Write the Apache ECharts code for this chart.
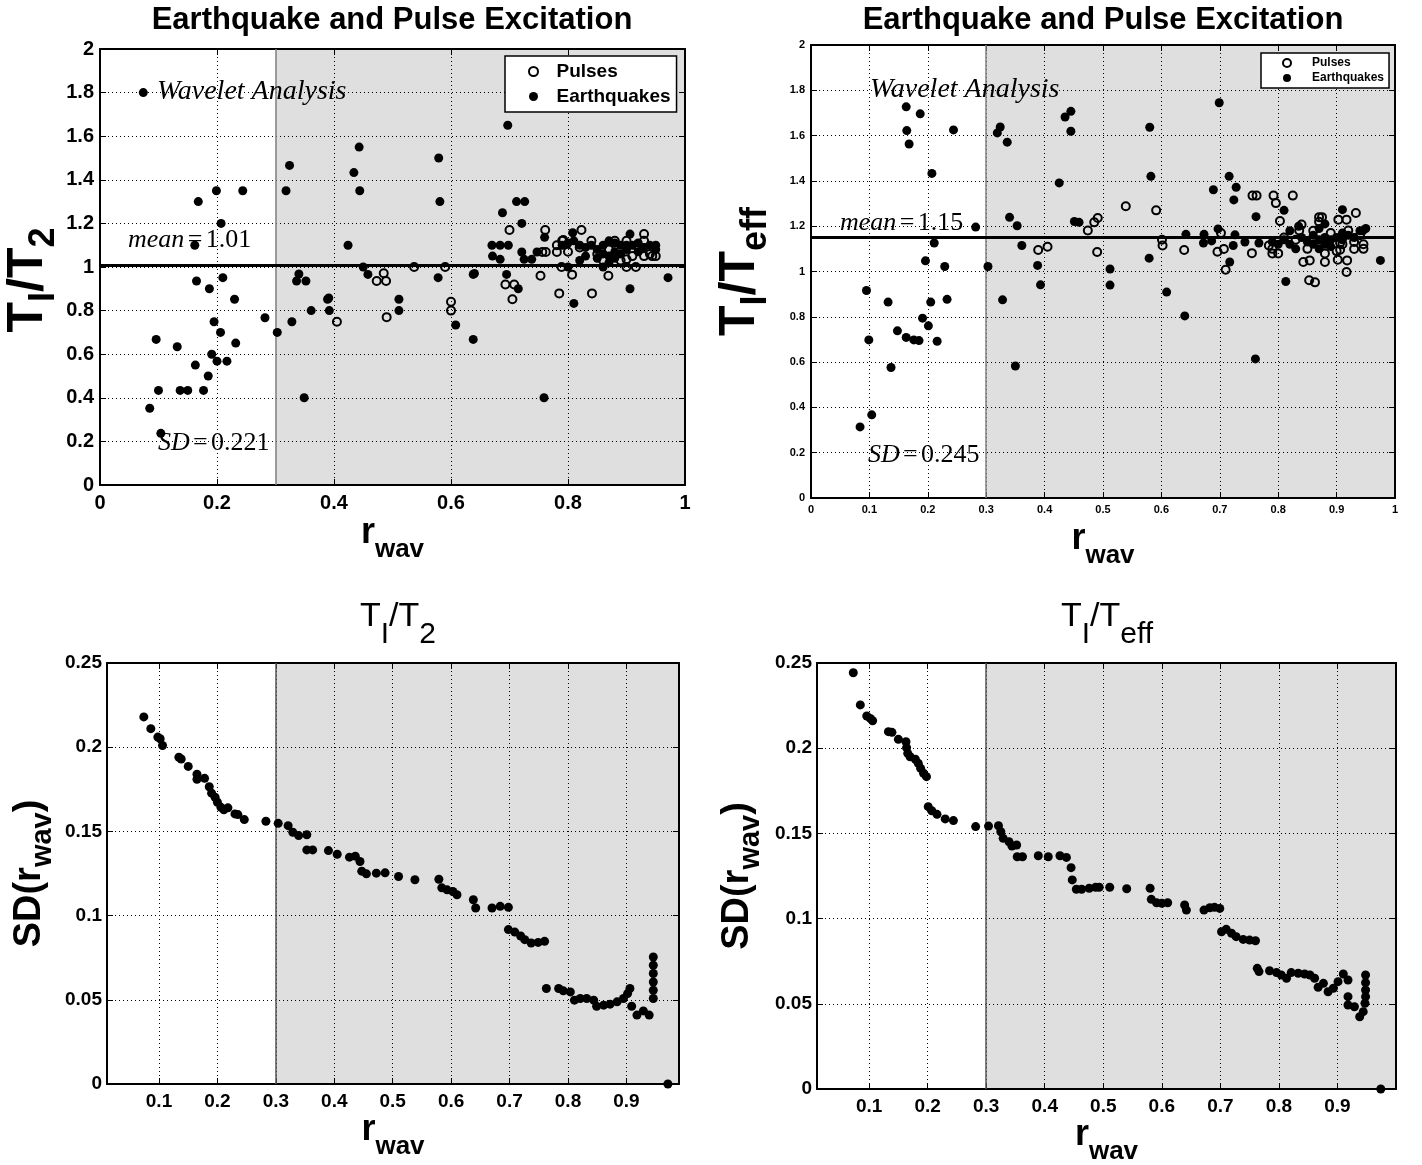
<!DOCTYPE html>
<html>
<head>
<meta charset="utf-8">
<script src="https://cdn.jsdelivr.net/npm/echarts@6/dist/echarts.min.js"></script>
<style>
  html, body { margin: 0; padding: 0; background: #fff; }
  #chart { width: 1422px; height: 1165px; }
</style>
</head>
<body>
<div id="chart"></div>
<script>
// ---- data ----
var tlQuakes = [
  [0.074,1.80],[0.443,1.55],[0.324,1.466],[0.434,1.433],[0.168,1.30],[0.199,1.35],[0.244,1.35],
  [0.318,1.35],[0.444,1.35],[0.207,1.20],[0.162,1.10],[0.424,1.10],[0.45,1.00],[0.458,0.966],
  [0.165,0.936],[0.210,0.951],[0.187,0.90],[0.340,0.968],[0.336,0.936],[0.352,0.936],[0.230,0.852],
  [0.389,0.852],[0.391,0.858],[0.361,0.80],[0.392,0.80],[0.282,0.767],[0.328,0.749],[0.195,0.749],
  [0.206,0.70],[0.303,0.70],[0.096,0.668],[0.132,0.634],[0.232,0.651],[0.191,0.60],[0.20,0.568],
  [0.217,0.568],[0.163,0.55],[0.185,0.50],[0.10,0.434],[0.137,0.434],[0.150,0.434],[0.177,0.434],
  [0.349,0.40],[0.085,0.352],[0.104,0.237],
  [0.697,1.65],[0.579,1.50],[0.581,1.30],[0.712,1.30],[0.726,1.30],[0.688,1.249],[0.721,1.20],
  [0.670,1.10],[0.684,1.10],[0.698,1.10],[0.671,1.05],[0.684,1.035],[0.721,1.069],[0.725,1.035],
  [0.738,1.035],[0.747,1.069],[0.760,1.136],[0.578,0.951],[0.695,0.966],[0.638,0.966],[0.640,0.97],
  [0.715,0.90],[0.511,0.852],[0.511,0.80],[0.608,0.734],[0.638,0.668],[0.759,0.40],[0.808,1.157],
  [0.81,0.833],[0.906,0.90],[0.971,0.951],[0.906,1.151],
  [0.79,1.10],[0.80,1.11],[0.81,1.12],[0.82,1.10],[0.83,1.09],[0.83,1.05],[0.84,1.10],[0.85,1.08],
  [0.85,1.04],[0.86,1.10],[0.86,1.06],[0.87,1.12],[0.87,1.05],[0.87,1.02],[0.88,1.11],[0.88,1.07],
  [0.88,1.04],[0.89,1.10],[0.89,1.06],[0.90,1.10],[0.90,1.08],[0.91,1.10],[0.92,1.07],[0.92,1.11],
  [0.93,1.09],[0.94,1.10],[0.95,1.10],[0.95,1.08],[0.86,1.00],[0.80,1.00],[0.82,1.03]
];
var tlPulses = [
  [0.405,0.749],[0.473,0.936],[0.489,0.936],[0.485,0.971],[0.49,0.77],[0.537,1.0],[0.59,1.0],
  [0.60,0.841],[0.60,0.80],[0.70,1.17],[0.693,0.92],[0.708,0.92],[0.705,0.852],[0.753,0.96],
  [0.761,1.17],[0.756,1.069],[0.762,1.069],[0.781,1.10],[0.781,1.069],[0.785,0.879],[0.792,1.124],
  [0.823,1.17],[0.807,0.965],[0.789,1.0],[0.841,0.879],[0.869,0.96],[0.90,1.035],[0.90,1.0],
  [0.916,1.0],[0.930,1.151],[0.917,1.10],[0.93,1.05],[0.944,1.05],
  [0.79,1.12],[0.80,1.07],[0.82,1.09],[0.84,1.12],[0.85,1.06],[0.86,1.03],[0.87,1.08],[0.88,1.12],
  [0.89,1.03],[0.91,1.05],[0.92,1.09],[0.93,1.12],[0.94,1.06],[0.95,1.05],[0.90,1.12]
];
var trQuakes = [
  [0.163,1.727],[0.187,1.696],[0.164,1.622],[0.168,1.563],[0.244,1.625],[0.207,1.433],[0.324,1.638],
  [0.319,1.612],[0.336,1.571],[0.445,1.707],[0.435,1.682],[0.445,1.619],[0.425,1.391],[0.340,1.239],
  [0.353,1.202],[0.282,1.196],[0.451,1.221],[0.459,1.217],[0.361,1.115],[0.211,1.126],[0.196,1.047],
  [0.229,1.022],[0.303,1.022],[0.388,1.027],[0.393,0.941],[0.095,0.916],[0.132,0.865],[0.205,0.865],
  [0.233,0.877],[0.328,0.875],[0.191,0.794],[0.201,0.760],[0.148,0.738],[0.163,0.709],[0.176,0.698],
  [0.185,0.695],[0.099,0.698],[0.216,0.692],[0.137,0.576],[0.35,0.583],[0.104,0.367],[0.084,0.314],
  [0.699,1.745],[0.580,1.637],[0.582,1.42],[0.716,1.42],[0.728,1.372],[0.689,1.361],[0.724,1.316],
  [0.762,1.242],[0.81,1.27],[0.91,1.273],[0.512,1.011],[0.512,0.94],[0.579,1.059],[0.609,0.909],
  [0.64,0.804],[0.761,0.614],[0.813,0.956],[0.717,1.042],[0.975,1.049],[0.642,1.164],[0.673,1.164],
  [0.686,1.135],[0.697,1.188],[0.672,1.126],[0.726,1.162],[0.723,1.115],[0.743,1.13],[0.767,1.126],
  [0.79,1.13],[0.80,1.12],[0.81,1.14],[0.82,1.12],[0.83,1.10],[0.84,1.15],[0.85,1.13],[0.86,1.16],
  [0.86,1.12],[0.87,1.19],[0.87,1.14],[0.87,1.10],[0.88,1.21],[0.88,1.15],[0.88,1.12],[0.89,1.14],
  [0.89,1.11],[0.90,1.15],[0.91,1.17],[0.91,1.14],[0.92,1.16],[0.93,1.15],[0.94,1.18],[0.945,1.18],
  [0.95,1.19],[0.82,1.18],[0.835,1.20]
];
var trPulses = [
  [0.389,1.095],[0.405,1.109],[0.474,1.181],[0.485,1.217],[0.491,1.236],[0.49,1.086],[0.539,1.288],
  [0.591,1.27],[0.601,1.14],[0.602,1.115],[0.639,1.095],[0.702,1.17],[0.696,1.087],[0.707,1.099],
  [0.71,1.008],[0.756,1.335],[0.763,1.335],[0.755,1.081],[0.792,1.335],[0.796,1.302],[0.825,1.335],
  [0.803,1.223],[0.784,1.115],[0.79,1.08],[0.84,1.207],[0.836,1.181],[0.843,1.042],[0.854,1.049],
  [0.853,0.961],[0.863,0.952],[0.88,1.042],[0.87,1.24],[0.875,1.24],[0.903,1.229],[0.917,1.229],
  [0.933,1.258],[0.92,1.181],[0.906,1.126],[0.906,1.096],[0.902,1.052],[0.918,1.049],[0.917,0.998],
  [0.93,1.099],[0.946,1.12],[0.946,1.10],
  [0.79,1.10],[0.80,1.08],[0.81,1.15],[0.83,1.14],[0.85,1.10],[0.86,1.18],[0.87,1.22],[0.88,1.08],
  [0.89,1.17],[0.90,1.09],[0.91,1.12],[0.93,1.13],[0.94,1.16]
];
var blSD = [
  [0.074,0.218],[0.086,0.211],[0.098,0.206],[0.102,0.205],[0.106,0.201],[0.134,0.194],[0.138,0.193],
  [0.150,0.1886],[0.165,0.184],[0.165,0.181],[0.178,0.1815],[0.186,0.1765],[0.19,0.1727],[0.196,0.1703],
  [0.2,0.1673],[0.206,0.1643],[0.211,0.1628],[0.218,0.164],[0.23,0.1604],[0.235,0.160],[0.246,0.157],
  [0.283,0.156],[0.304,0.1548],[0.321,0.1534],[0.329,0.1495],[0.339,0.1475],[0.353,0.148],[0.353,0.139],
  [0.363,0.139],[0.39,0.1386],[0.405,0.1364],[0.426,0.1347],[0.436,0.1353],[0.444,0.1321],[0.447,0.1264],
  [0.455,0.1248],[0.472,0.1252],[0.487,0.1254],[0.51,0.1232],[0.538,0.1213],[0.579,0.1216],[0.584,0.1165],
  [0.593,0.1153],[0.603,0.1143],[0.61,0.1124],[0.638,0.1094],[0.642,0.1045],[0.67,0.1045],[0.684,0.1055],
  [0.698,0.1049],[0.698,0.0917],[0.709,0.0902],[0.719,0.0879],[0.726,0.0857],[0.737,0.0837],[0.749,0.0841],
  [0.76,0.0847],[0.763,0.0567],[0.784,0.0567],[0.792,0.0553],[0.804,0.0547],[0.811,0.0498],[0.821,0.0508],
  [0.832,0.0508],[0.844,0.0498],[0.849,0.0462],[0.861,0.0468],[0.872,0.0474],[0.884,0.0488],[0.895,0.0508],
  [0.902,0.0537],[0.906,0.0567],[0.909,0.0462],[0.918,0.0409],[0.929,0.0434],[0.939,0.0409],[0.946,0.0508],
  [0.946,0.0557],[0.946,0.0606],[0.946,0.0656],[0.946,0.0705],[0.946,0.0754],[0.971,0.0]
];
var brSD = [
  [0.073,0.2443],[0.085,0.2254],[0.096,0.2189],[0.102,0.2175],[0.106,0.2161],[0.133,0.2097],[0.139,0.2093],
  [0.15,0.2052],[0.163,0.2038],[0.164,0.2003],[0.166,0.197],[0.17,0.195],[0.179,0.1935],[0.184,0.1911],
  [0.188,0.1882],[0.193,0.1853],[0.198,0.1833],[0.201,0.1657],[0.207,0.1633],[0.216,0.1612],[0.23,0.1585],
  [0.244,0.1575],[0.282,0.154],[0.304,0.1543],[0.321,0.1545],[0.325,0.151],[0.329,0.1471],[0.339,0.1451],
  [0.344,0.1426],[0.352,0.1432],[0.353,0.1363],[0.362,0.1363],[0.389,0.1369],[0.406,0.1363],[0.426,0.1369],
  [0.437,0.1359],[0.445,0.1299],[0.447,0.1227],[0.454,0.1172],[0.463,0.1172],[0.476,0.1178],[0.487,0.1184],
  [0.493,0.1184],[0.511,0.1184],[0.54,0.1175],[0.58,0.1178],[0.582,0.1113],[0.591,0.1093],[0.6,0.109],
  [0.61,0.1093],[0.639,0.108],[0.642,0.105],[0.672,0.105],[0.682,0.1064],[0.69,0.1066],[0.699,0.106],
  [0.702,0.0923],[0.71,0.0937],[0.719,0.0914],[0.727,0.0894],[0.739,0.0878],[0.75,0.0874],[0.76,0.087],
  [0.763,0.0708],[0.766,0.0689],[0.784,0.0694],[0.796,0.0683],[0.804,0.0669],[0.813,0.065],[0.821,0.0683],
  [0.833,0.0679],[0.844,0.0675],[0.853,0.0669],[0.861,0.065],[0.867,0.0597],[0.876,0.062],[0.884,0.0571],
  [0.893,0.0591],[0.901,0.063],[0.91,0.0675],[0.918,0.064],[0.918,0.0542],[0.918,0.0493],[0.929,0.0483],
  [0.938,0.0424],[0.944,0.0454],[0.947,0.0503],[0.948,0.0542],[0.948,0.0581],[0.948,0.0624],[0.948,0.0669],
  [0.974,0.0]
];
var sdTicks = [0.1, 0.2, 0.3, 0.4, 0.5, 0.6, 0.7, 0.8, 0.9];
var meanT2 = 1.01, meanTeff = 1.15;
var splitAt = 0.3;

var SANS = '"Liberation Sans", Arial, Helvetica, sans-serif';
var SERIF = '"Liberation Serif", "DejaVu Serif", serif';

var myChart = echarts.init(document.getElementById('chart'), null, { renderer: 'canvas' });

var dotted = { show: true, lineStyle: { color: '#000', width: 1, type: [1, 3] } };

// main text + lowered subscript (rich text); e = subscript with some trailing room
function subRich(big, small, weight, drop, tail) {
  var pad = Math.round(big * (drop || 0.6));
  return {
    m: { fontSize: big, fontWeight: weight, fontFamily: SANS, color: '#000', lineHeight: big, verticalAlign: 'top' },
    s: { fontSize: small, fontWeight: weight, fontFamily: SANS, color: '#000',
         verticalAlign: 'bottom', padding: [pad, 0, 0, 0] },
    e: { fontSize: small, fontWeight: weight, fontFamily: SANS, color: '#000',
         verticalAlign: 'bottom', padding: [pad, tail || 0, 0, 0] }
  };
}

function mathRich(size) {
  return {
    i: { fontStyle: 'italic', fontSize: size, fontFamily: SERIF, color: '#000' },
    r: { fontSize: size, fontFamily: SERIF, color: '#000' }
  };
}

function mainAxis(gi, min, max, interval, extra) {
  var ax = {
    gridIndex: gi, type: 'value', min: min, max: max, z: 3,
    axisLine: { show: true, onZero: false, lineStyle: { color: '#000', width: 2 } },
    axisTick: { show: true, inside: true, length: 6, lineStyle: { color: '#000', width: 1 } },
    splitLine: dotted
  };
  if (interval) ax.interval = interval;
  return Object.assign(ax, extra || {});
}

function mirrorAxis(gi, min, max, interval, pos, custom) {
  var ax = {
    gridIndex: gi, type: 'value', min: min, max: max, position: pos, z: 3,
    axisLine: { show: true, onZero: false, lineStyle: { color: '#000', width: 2 } },
    axisTick: { show: true, inside: true, length: 6, lineStyle: { color: '#000', width: 1 } },
    axisLabel: { show: false },
    splitLine: { show: false }
  };
  if (interval) ax.interval = interval;
  if (custom) { ax.axisTick.customValues = custom; ax.axisLabel.customValues = custom; }
  return ax;
}

function tickFont(size, margin, custom) {
  var l = { color: '#000', fontSize: size, fontWeight: 'bold', fontFamily: SANS, margin: margin };
  if (custom) l.customValues = custom;
  return l;
}

var rwavName = '{m|r}{s|wav}';

var option = {
  animation: false,
  backgroundColor: '#fff',
  grid: [
    { left: 100, top: 49, width: 585, height: 436, outerBoundsMode: 'none' },
    { left: 811, top: 45, width: 584, height: 453, outerBoundsMode: 'none' },
    { left: 107, top: 663, width: 572, height: 421, outerBoundsMode: 'none' },
    { left: 817, top: 663, width: 579, height: 426, outerBoundsMode: 'none' }
  ],
  xAxis: [
    mainAxis(0, 0, 1, 0.2, { axisLabel: tickFont(20, 8),
      name: rwavName, nameLocation: 'middle', nameGap: 30, nameTextStyle: { rich: subRich(36, 26, 'bold') } }),
    mainAxis(1, 0, 1, 0.1, { axisLabel: tickFont(11, 6),
      name: rwavName, nameLocation: 'middle', nameGap: 23, nameTextStyle: { rich: subRich(36, 26, 'bold') } }),
    mainAxis(2, 0.011, 0.99, null, {
      axisTick: { show: true, inside: true, length: 6, customValues: sdTicks },
      axisLabel: tickFont(19, 8, sdTicks),
      name: rwavName, nameLocation: 'middle', nameGap: 28, nameTextStyle: { rich: subRich(36, 26, 'bold') } }),
    mainAxis(3, 0.011, 1.0, null, {
      axisTick: { show: true, inside: true, length: 6, customValues: sdTicks },
      axisLabel: tickFont(19, 8, sdTicks),
      name: rwavName, nameLocation: 'middle', nameGap: 27, nameTextStyle: { rich: subRich(36, 26, 'bold') } }),
    mirrorAxis(0, 0, 1, 0.2, 'top'),
    mirrorAxis(1, 0, 1, 0.1, 'top'),
    mirrorAxis(2, 0.011, 0.99, null, 'top', sdTicks),
    mirrorAxis(3, 0.011, 1.0, null, 'top', sdTicks)
  ],
  yAxis: [
    mainAxis(0, 0, 2, 0.2, { axisLabel: tickFont(20, 6),
      name: '{m|T}{s|I}{m|/T}{e|2}', nameLocation: 'middle', nameGap: 34,
      nameTextStyle: { rich: subRich(50, 36, 'bold', 0.45, 26) } }),
    mainAxis(1, 0, 2, 0.2, { axisLabel: tickFont(11, 6),
      name: '{m|T}{s|I}{m|/T}{s|eff}', nameLocation: 'middle', nameGap: 37,
      nameTextStyle: { rich: subRich(50, 36, 'bold', 0.45) } }),
    mainAxis(2, 0, 0.25, 0.05, { axisLabel: tickFont(19, 5),
      name: '{m|SD(r}{s|wav}{m|)}', nameLocation: 'middle', nameGap: 50,
      nameTextStyle: { rich: subRich(38, 29, 'bold', 0.45) } }),
    mainAxis(3, 0, 0.25, 0.05, { axisLabel: tickFont(19, 5),
      name: '{m|SD(r}{s|wav}{m|)}', nameLocation: 'middle', nameGap: 52,
      nameTextStyle: { rich: subRich(38, 29, 'bold', 0.45) } }),
    mirrorAxis(0, 0, 2, 0.2, 'right'),
    mirrorAxis(1, 0, 2, 0.2, 'right'),
    mirrorAxis(2, 0, 0.25, 0.05, 'right'),
    mirrorAxis(3, 0, 0.25, 0.05, 'right')
  ],
  legend: [
    {
      data: ['Pulses', 'Earthquakes'], orient: 'vertical', left: 505, top: 56,
      itemWidth: 36, itemHeight: 9, itemGap: 6, padding: [6, 6, 6, 23],
      backgroundColor: '#fff', borderColor: '#000', borderWidth: 1.5, borderRadius: 0,
      selectedMode: false,
      textStyle: { color: '#000', fontSize: 19, fontWeight: 'bold', fontFamily: SANS }
    },
    {
      data: ['Pulses', 'Earthquakes'], orient: 'vertical', left: 1261, top: 53,
      itemWidth: 40, itemHeight: 8, itemGap: 3, padding: [4, 5, 4, 21],
      backgroundColor: '#fff', borderColor: '#000', borderWidth: 1.5, borderRadius: 0,
      selectedMode: false,
      textStyle: { color: '#000', fontSize: 12, fontWeight: 'bold', fontFamily: SANS }
    }
  ],
  series: [
    {
      name: 'Earthquakes', type: 'scatter', xAxisIndex: 0, yAxisIndex: 0, data: tlQuakes,
      symbolSize: 9, itemStyle: { color: '#000', opacity: 1 }, z: 6, silent: true,
      markArea: { silent: true, itemStyle: { color: '#dfdfdf' }, data: [[{ xAxis: splitAt }, { xAxis: 1 }]] },
      markLine: {
        silent: true, symbol: 'none', label: { show: false },
        data: [
          { xAxis: splitAt, lineStyle: { color: '#808080', width: 1.5, type: 'solid' } },
          { yAxis: meanT2, lineStyle: { color: '#000', width: 3, type: 'solid' } }
        ]
      }
    },
    {
      name: 'Pulses', type: 'scatter', xAxisIndex: 0, yAxisIndex: 0, data: tlPulses,
      symbolSize: 8, itemStyle: { color: 'rgba(0,0,0,0)', borderColor: '#000', borderWidth: 2, opacity: 1 }, z: 6, silent: true
    },
    {
      name: 'Earthquakes', type: 'scatter', xAxisIndex: 1, yAxisIndex: 1, data: trQuakes,
      symbolSize: 9, itemStyle: { color: '#000', opacity: 1 }, z: 6, silent: true,
      markArea: { silent: true, itemStyle: { color: '#dfdfdf' }, data: [[{ xAxis: splitAt }, { xAxis: 1 }]] },
      markLine: {
        silent: true, symbol: 'none', label: { show: false },
        data: [
          { xAxis: splitAt, lineStyle: { color: '#808080', width: 1.5, type: 'solid' } },
          { yAxis: meanTeff, lineStyle: { color: '#000', width: 3, type: 'solid' } }
        ]
      }
    },
    {
      name: 'Pulses', type: 'scatter', xAxisIndex: 1, yAxisIndex: 1, data: trPulses,
      symbolSize: 8, itemStyle: { color: 'rgba(0,0,0,0)', borderColor: '#000', borderWidth: 2, opacity: 1 }, z: 6, silent: true
    },
    {
      name: 'SD T2', type: 'scatter', xAxisIndex: 2, yAxisIndex: 2, data: blSD,
      symbolSize: 9, itemStyle: { color: '#000', opacity: 1 }, z: 6, silent: true,
      markArea: { silent: true, itemStyle: { color: '#dfdfdf' }, data: [[{ xAxis: splitAt }, { xAxis: 0.99 }]] },
      markLine: {
        silent: true, symbol: 'none', label: { show: false },
        data: [{ xAxis: splitAt, lineStyle: { color: '#555', width: 1.5, type: 'solid' } }]
      }
    },
    {
      name: 'SD Teff', type: 'scatter', xAxisIndex: 3, yAxisIndex: 3, data: brSD,
      symbolSize: 9, itemStyle: { color: '#000', opacity: 1 }, z: 6, silent: true,
      markArea: { silent: true, itemStyle: { color: '#dfdfdf' }, data: [[{ xAxis: splitAt }, { xAxis: 1.0 }]] },
      markLine: {
        silent: true, symbol: 'none', label: { show: false },
        data: [{ xAxis: splitAt, lineStyle: { color: '#555', width: 1.5, type: 'solid' } }]
      }
    }
  ],
  graphic: [
    { type: 'text', x: 392, y: 20, z: 10, style: { text: 'Earthquake and Pulse Excitation', align: 'center', verticalAlign: 'middle',
      font: 'bold 31px ' + SANS, fill: '#000' } },
    { type: 'text', x: 1103, y: 20, z: 10, style: { text: 'Earthquake and Pulse Excitation', align: 'center', verticalAlign: 'middle',
      font: 'bold 31px ' + SANS, fill: '#000' } },
    { type: 'text', x: 398, y: 625, z: 10, style: { text: '{m|T}{s|I}{m|/T}{s|2}', align: 'center', verticalAlign: 'middle',
      rich: subRich(34, 30, 'normal') } },
    { type: 'text', x: 1107, y: 625, z: 10, style: { text: '{m|T}{s|I}{m|/T}{s|eff}', align: 'center', verticalAlign: 'middle',
      rich: subRich(34, 30, 'normal') } },
    // annotations, upper left
    { type: 'text', x: 157, y: 92, z: 10, style: { text: 'Wavelet Analysis', align: 'left', verticalAlign: 'middle',
      font: 'italic 28px ' + SERIF, fill: '#000' } },
    { type: 'text', x: 128, y: 240, z: 10, style: { text: '{i|mean} {r|=} {r|1.01}', align: 'left', verticalAlign: 'middle',
      rich: mathRich(26) } },
    { type: 'text', x: 158, y: 443, z: 10, style: { text: '{i|SD} {r|=} {r|0.221}', align: 'left', verticalAlign: 'middle',
      rich: mathRich(26) } },
    // annotations, upper right
    { type: 'text', x: 870, y: 90, z: 10, style: { text: 'Wavelet Analysis', align: 'left', verticalAlign: 'middle',
      font: 'italic 28px ' + SERIF, fill: '#000' } },
    { type: 'text', x: 840, y: 223, z: 10, style: { text: '{i|mean} {r|=} {r|1.15}', align: 'left', verticalAlign: 'middle',
      rich: mathRich(26) } },
    { type: 'text', x: 868, y: 455, z: 10, style: { text: '{i|SD} {r|=} {r|0.245}', align: 'left', verticalAlign: 'middle',
      rich: mathRich(26) } }
  ]
};

myChart.setOption(option);
</script>
</body>
</html>
